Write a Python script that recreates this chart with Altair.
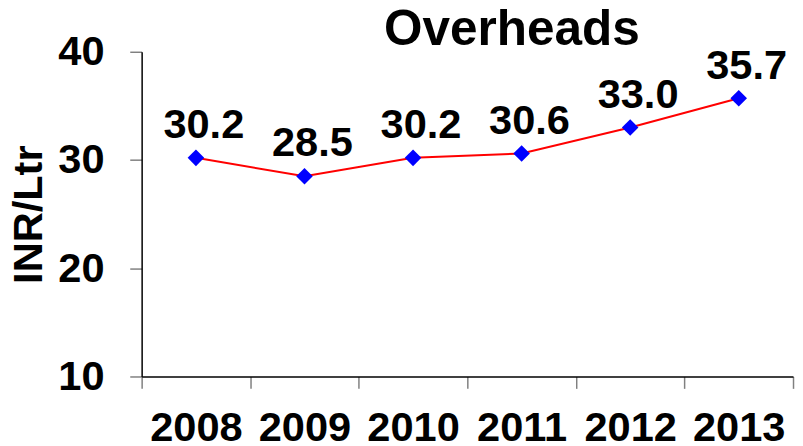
import altair as alt
import pandas as pd

years = ["2008", "2009", "2010", "2011", "2012", "2013"]
values = [30.2, 28.5, 30.2, 30.6, 33.0, 35.7]
labels = ["30.2", "28.5", "30.2", "30.6", "33.0", "35.7"]
y_ticks = [10, 20, 30, 40]
chart_title = ["Overheads"]
y_title = "INR/Ltr"

df = pd.DataFrame({"year": years, "value": values, "label": labels})
title_df = pd.DataFrame({"t": chart_title})
FONT = "Liberation Sans"

x = alt.X(
    "year:O",
    sort=years,
    scale=alt.Scale(type="band", paddingInner=0, paddingOuter=0),
    axis=alt.Axis(
        title=None, labelAngle=0, tickBand="extent",
        labelFont=FONT, labelFontSize=42, labelFontWeight="bold", labelColor="black",
        labelPadding=20, tickSize=12, tickColor="#808080", tickWidth=1.5,
        domainColor="black", domainWidth=1.5,
    ),
)
y = alt.Y(
    "value:Q",
    scale=alt.Scale(domain=[10, 40], nice=False, zero=False),
    axis=alt.Axis(
        values=y_ticks, grid=False, title=y_title,
        titleFont=FONT, titleFontSize=42, titleFontWeight="bold", titleColor="black",
        titleAngle=270, titleX=-101, titleY=164, titleAlign="center", titleBaseline="alphabetic",
        labelFont=FONT, labelFontSize=42, labelFontWeight="bold", labelColor="black",
        labelPadding=26, tickSize=12, tickColor="#808080", tickWidth=1.5,
        domainColor="black", domainWidth=1.5,
    ),
)

base = alt.Chart(df).encode(x=x, y=y)
line = base.mark_line(color="red", strokeWidth=2)
pts = base.mark_point(shape="diamond", filled=True, color="blue", size=280, opacity=1)
txt = base.mark_text(font=FONT, fontSize=42, fontWeight="bold", color="black",
                     dx=8, dy=-20, baseline="alphabetic").encode(text="label:N")

title_mark = alt.Chart(title_df).mark_text(
    font=FONT, fontSize=50, fontWeight="bold", color="black",
    align="center", baseline="alphabetic",
).encode(x=alt.value(374), y=alt.value(-7), text="t:N")

chart = (line + pts + txt + title_mark).properties(
    width=658, height=328,
    padding={"left": 135, "top": 42, "right": 2, "bottom": 68},
    autosize="none",
).configure_view(stroke=None)

chart.save("out.html", embed_options={"renderer": "svg", "actions": False})
